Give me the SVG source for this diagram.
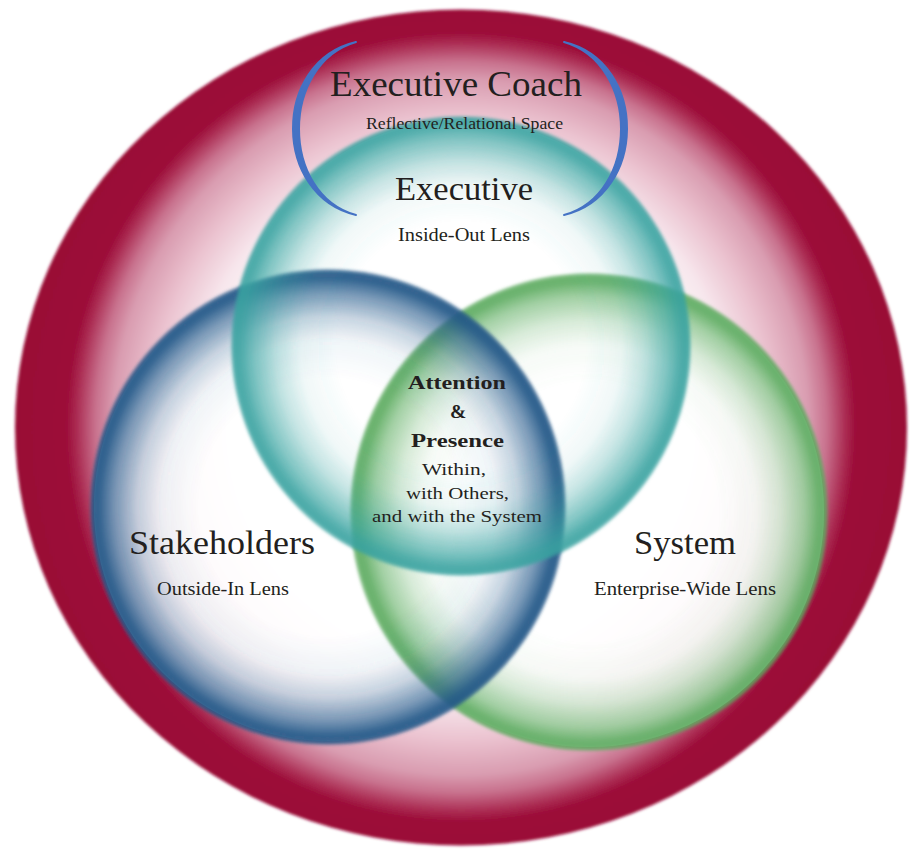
<svg xmlns="http://www.w3.org/2000/svg" width="913" height="852" viewBox="0 0 913 852">
  <defs>
    <style>
      text { font-family: "Liberation Serif", "Times New Roman", serif; fill: #231f20; text-anchor: middle; }
      .title { font-size: 34px; }
      .sub { font-size: 18px; }
      .core-b { font-size: 19.5px; font-weight: bold; }
      .core { font-size: 17px; }
      .base { fill: #ffffff; fill-opacity: 0.86; }
      .ring { filter: url(#soft); }
      .bracket { fill: #4472c4; stroke: #4472c4; stroke-width: 2; stroke-linejoin: round; }
    </style>
    <!-- outer field: white centre fading into crimson rim -->
    <radialGradient id="gField" gradientUnits="userSpaceOnUse" cx="461" cy="427" r="446">
      <stop offset="0" stop-color="#ffffff"/>
      <stop offset="0.5" stop-color="#ffffff"/>
      <stop offset="0.62" stop-color="#f7e6ec"/>
      <stop offset="0.7" stop-color="#ebc3d0"/>
      <stop offset="0.78" stop-color="#d99cb0"/>
      <stop offset="0.82" stop-color="#c8718d"/>
      <stop offset="0.86" stop-color="#ac2f55"/>
      <stop offset="0.885" stop-color="#9c0d39"/>
      <stop offset="1" stop-color="#990a35"/>
    </radialGradient>
    <radialGradient id="gTeal">
      <stop offset="0" stop-color="#3aa5a2" stop-opacity="0"/>
      <stop offset="0.54" stop-color="#3aa5a2" stop-opacity="0"/>
      <stop offset="0.7" stop-color="#3aa5a2" stop-opacity="0.08"/>
      <stop offset="0.8" stop-color="#3aa5a2" stop-opacity="0.3"/>
      <stop offset="0.9" stop-color="#3aa5a2" stop-opacity="0.64"/>
      <stop offset="0.96" stop-color="#38a2a0" stop-opacity="0.88"/>
      <stop offset="0.985" stop-color="#38a2a0" stop-opacity="0.9"/>
      <stop offset="1" stop-color="#38a2a0" stop-opacity="0.5"/>
    </radialGradient>
    <radialGradient id="gBlue">
      <stop offset="0" stop-color="#2b5e8e" stop-opacity="0"/>
      <stop offset="0.54" stop-color="#2b5e8e" stop-opacity="0"/>
      <stop offset="0.7" stop-color="#2b5e8e" stop-opacity="0.06"/>
      <stop offset="0.8" stop-color="#2b5e8e" stop-opacity="0.26"/>
      <stop offset="0.9" stop-color="#2b5e8e" stop-opacity="0.64"/>
      <stop offset="0.96" stop-color="#255888" stop-opacity="0.92"/>
      <stop offset="0.985" stop-color="#255888" stop-opacity="0.94"/>
      <stop offset="1" stop-color="#255888" stop-opacity="0.5"/>
    </radialGradient>
    <radialGradient id="gGreen">
      <stop offset="0" stop-color="#5fae62" stop-opacity="0"/>
      <stop offset="0.54" stop-color="#5fae62" stop-opacity="0"/>
      <stop offset="0.7" stop-color="#5fae62" stop-opacity="0.06"/>
      <stop offset="0.8" stop-color="#5fae62" stop-opacity="0.25"/>
      <stop offset="0.9" stop-color="#5fae62" stop-opacity="0.58"/>
      <stop offset="0.96" stop-color="#5aaa5d" stop-opacity="0.88"/>
      <stop offset="0.985" stop-color="#5aaa5d" stop-opacity="0.9"/>
      <stop offset="1" stop-color="#5aaa5d" stop-opacity="0.5"/>
    </radialGradient>
    <filter id="soft" x="-5%" y="-5%" width="110%" height="110%">
      <feGaussianBlur stdDeviation="1.4"/>
    </filter>
  </defs>

  <!-- outer field -->
  <g id="field">
    <ellipse cx="461" cy="427.5" rx="446" ry="418" fill="url(#gField)" filter="url(#soft)"/>
  </g>

  <!-- white bases under the three lenses -->
  <g id="lens-bases">
    <circle class="base" cx="589" cy="512" r="235"/>
    <circle class="base" cx="328" cy="507" r="234"/>
    <circle class="base" cx="461" cy="346" r="226"/>
  </g>

  <g id="system">
    <circle class="ring" cx="589" cy="512" r="239" fill="url(#gGreen)"/>
    <text class="title" x="685" y="554" textLength="102" lengthAdjust="spacingAndGlyphs">System</text>
    <text class="sub" x="685" y="595" textLength="182" lengthAdjust="spacingAndGlyphs">Enterprise-Wide Lens</text>
  </g>

  <g id="stakeholders">
    <circle class="ring" cx="328" cy="507" r="238" fill="url(#gBlue)"/>
    <text class="title" x="222" y="554" textLength="186" lengthAdjust="spacingAndGlyphs">Stakeholders</text>
    <text class="sub" x="223" y="595" textLength="132" lengthAdjust="spacingAndGlyphs">Outside-In Lens</text>
  </g>

  <g id="executive">
    <circle class="ring" cx="461" cy="346" r="230" fill="url(#gTeal)"/>
    <text class="title" x="464" y="200" font-size="32" textLength="138" lengthAdjust="spacingAndGlyphs">Executive</text>
    <text class="sub" x="464" y="241" textLength="132" lengthAdjust="spacingAndGlyphs">Inside-Out Lens</text>
  </g>

  <g id="core">
    <text class="core-b" x="457" y="389" textLength="98" lengthAdjust="spacingAndGlyphs">Attention</text>
    <text class="core-b" x="458" y="418">&amp;</text>
    <text class="core-b" x="457.5" y="447" textLength="93" lengthAdjust="spacingAndGlyphs">Presence</text>
    <text class="core" x="454" y="475" textLength="64" lengthAdjust="spacingAndGlyphs">Within,</text>
    <text class="core" x="457.5" y="499" textLength="103" lengthAdjust="spacingAndGlyphs">with Others,</text>
    <text class="core" x="457" y="522" textLength="170" lengthAdjust="spacingAndGlyphs">and with the System</text>
  </g>

  <g id="executive-coach">
    <path class="bracket" d="M356,42 C271,62 273,196 356,215 C280,194 280,64 356,42 Z"/>
    <path class="bracket" d="M564,42 C649,62 647,196 564,215 C640,194 640,64 564,42 Z"/>
    <text x="456" y="96" font-size="35" textLength="252" lengthAdjust="spacingAndGlyphs">Executive Coach</text>
    <text x="464.5" y="129" font-size="16.5" textLength="197" lengthAdjust="spacingAndGlyphs">Reflective/Relational Space</text>
  </g>
</svg>
